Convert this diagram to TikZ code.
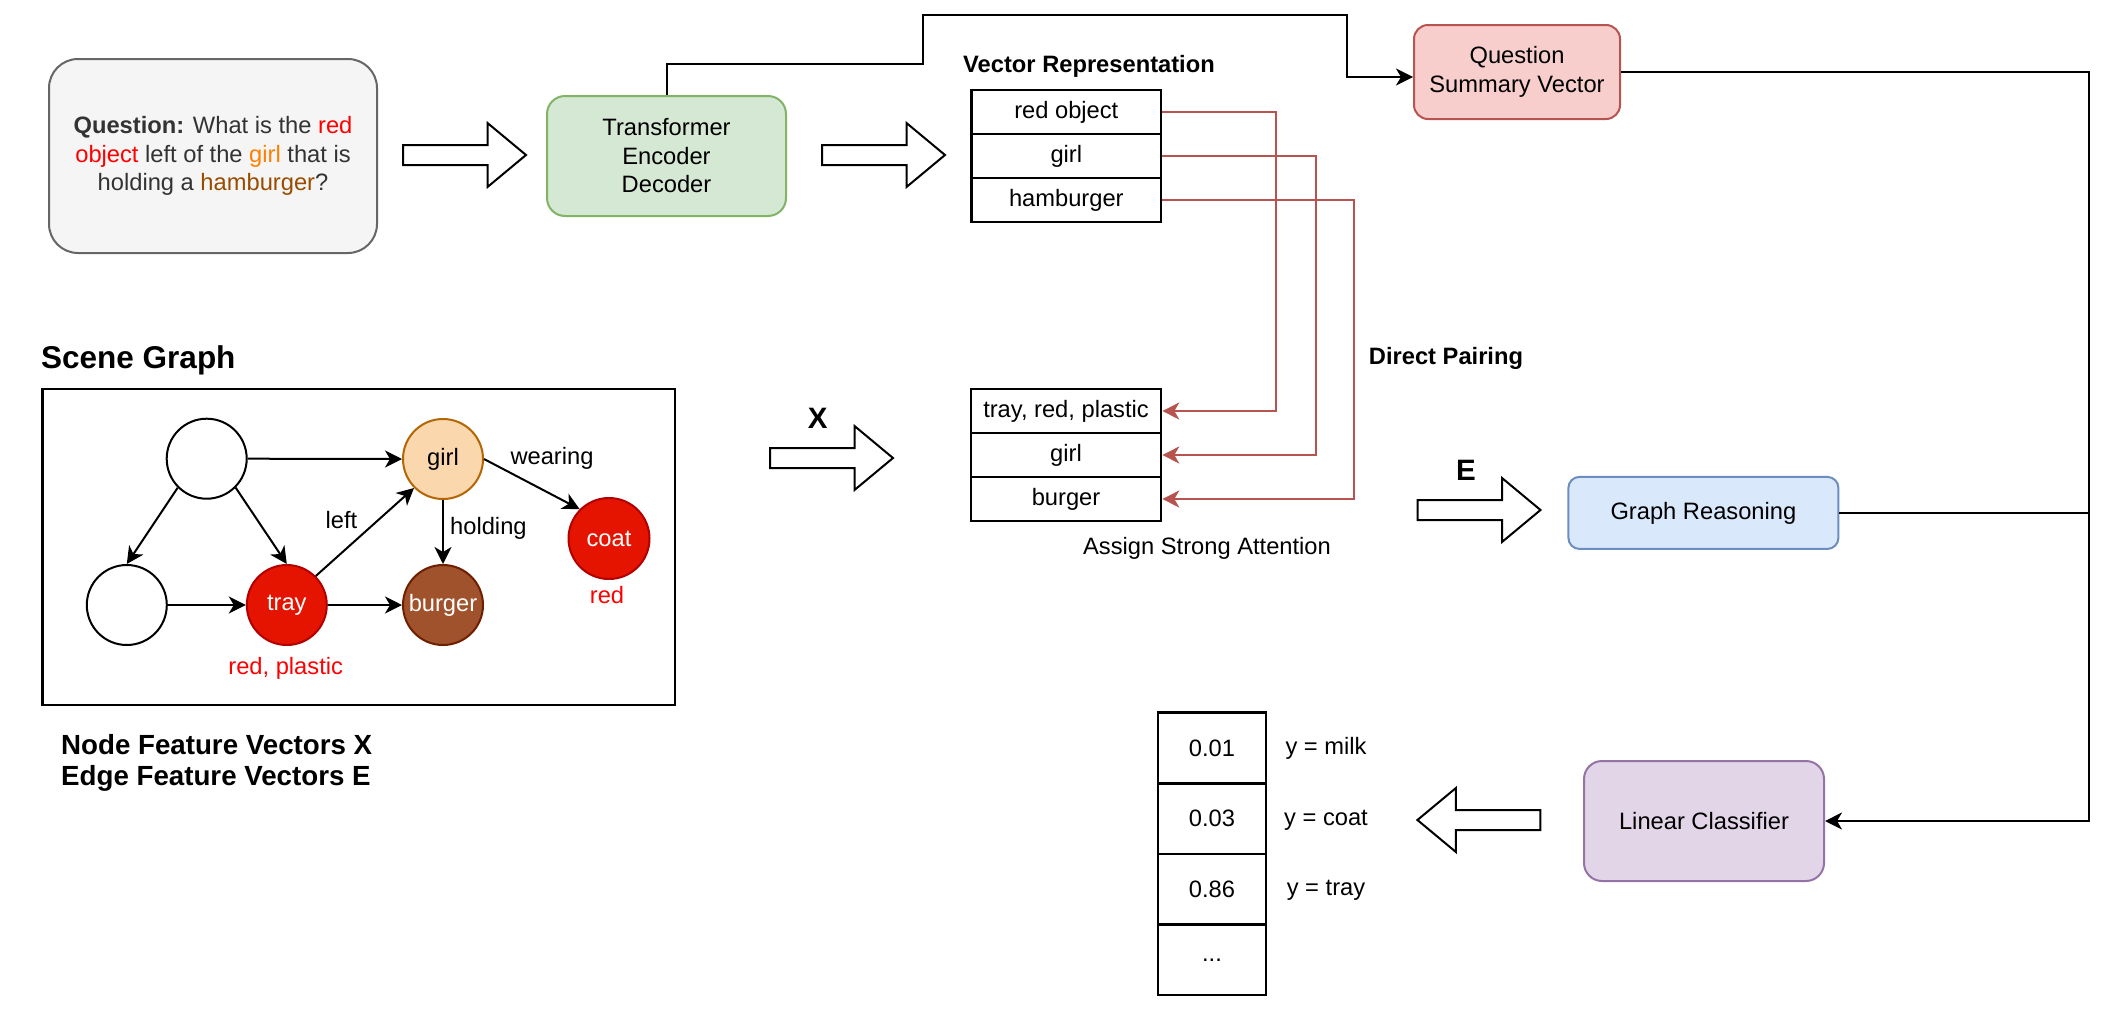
\documentclass[tikz,border=0pt]{standalone}
\usepackage{fontspec}
\setmainfont{Liberation Sans}
\usetikzlibrary{arrows.meta}
\definecolor{qfill}{HTML}{F5F5F5}
\definecolor{qline}{HTML}{666666}
\definecolor{qtext}{HTML}{333333}
\definecolor{gfill}{HTML}{D5E8D4}
\definecolor{gline}{HTML}{82B366}
\definecolor{rfill}{HTML}{F8CECC}
\definecolor{rline}{HTML}{B85450}
\definecolor{bfill}{HTML}{DAE8FC}
\definecolor{bline}{HTML}{6C8EBF}
\definecolor{pfill}{HTML}{E1D5E7}
\definecolor{pline}{HTML}{9673A6}
\definecolor{girlfill}{HTML}{FAD7AC}
\definecolor{girlline}{HTML}{B46504}
\definecolor{trayfill}{HTML}{E51400}
\definecolor{trayline}{HTML}{B20000}
\definecolor{burgfill}{HTML}{A0522D}
\definecolor{burgline}{HTML}{6D1F00}
\definecolor{txtred}{HTML}{FF0000}
\definecolor{txtorange}{HTML}{FF8000}
\definecolor{txtbrown}{HTML}{994C00}
\begin{document}
\begin{tikzpicture}[x=1pt,y=-1pt,
  base/.style={font=\fontsize{23.7}{28.5}\selectfont, inner sep=0pt, align=center},
  boldlab/.style={font=\fontsize{23.7}{28.5}\selectfont\bfseries, inner sep=0pt},
  rbox/.style={base, draw, line width=2pt, rectangle},
  cell/.style={base, draw, line width=2.6pt, rectangle},
  gnode/.style={base, draw, circle, line width=2pt, minimum size=80pt},
  tip/.style={-{Stealth[length=17pt,width=17pt,inset=5pt]}},
  conn/.style={line width=2pt, tip},
  redconn/.style={line width=2pt, draw=rline, -{Stealth[length=17pt,width=17pt,inset=5pt,rline]}},
  hollow/.pic={\draw[line width=2pt, fill=white, line join=miter]
     (0,-10) -- (84.5,-10) -- (84.5,-32) -- (123,0) -- (84.5,32) -- (84.5,10) -- (0,10) -- cycle;}
]
\useasboundingbox[fill=white] (0,0) rectangle (2106,1028);

% question
\node[rbox, fill=qfill, draw=qline, text=qtext, minimum width=328pt, minimum height=194pt, rounded corners=29pt] (q) at (213,156)
 {{\bfseries Question:} What is the \textcolor{txtred}{red}\\ \textcolor{txtred}{object} left of the \textcolor{txtorange}{girl} that is\\ holding a \textcolor{txtbrown}{hamburger}?};
\pic at (403,155) {hollow};

% transformer
\node[rbox, fill=gfill, draw=gline, minimum width=239pt, minimum height=120pt, rounded corners=18pt] (te) at (666.5,156)
 {Transformer\\Encoder\\Decoder};
\pic at (822,155) {hollow};

% vector representation
\node[boldlab] (vrt) at (1089,66) {Vector Representation};
\node[cell, minimum width=189.4pt, minimum height=44pt] (vr1) at (1066.3,112) {red object};
\node[cell, minimum width=189.4pt, minimum height=44pt] (vr2) at (1066.3,156) {girl};
\node[cell, minimum width=189.4pt, minimum height=44pt] (vr3) at (1066.3,200) {hamburger};

% question summary vector
\node[rbox, fill=rfill, draw=rline, minimum width=206pt, minimum height=94pt, rounded corners=14pt] (qsv) at (1517,72)
 {Question\\Summary Vector};
\draw[conn] (te.north) |- (922.5,64.3) |- (1347,14.7) |- ([yshift=-5pt]qsv.west);

% scene graph
\node[boldlab, font=\fontsize{31.5}{36}\selectfont\bfseries, anchor=west] (sgt) at (41,360) {Scene Graph};
\node[draw, line width=2.6pt, minimum width=632.6pt, minimum height=316pt, inner sep=0pt] (sgbox) at (358.7,547) {};
\node[gnode] (tl) at (206.7,458.7) {};
\node[gnode] (lb) at (126.8,605) {};
\node[gnode, fill=trayfill, draw=trayline, text=white] (tray) at (286.8,605) {tray};
\node[gnode, fill=girlfill, draw=girlline] (girl) at (443,459) {girl};
\node[gnode, fill=burgfill, draw=burgline, text=white] (burger) at (443,605) {burger};
\node[gnode, fill=trayfill, draw=trayline, text=white, minimum size=81pt] (coat) at (609,538.5) {coat};
\draw[conn] (tl.east) -- (girl.west);
\draw[conn] (tl.225) -- (lb.north);
\draw[conn] (tl.-45) -- (tray.north);
\draw[conn] (lb.east) -- (tray.west);
\draw[conn] (tray.east) -- (burger.west);
\draw[conn] (tray.45) -- (girl.225);
\draw[conn] (girl.south) -- (burger.north);
\draw[conn] (girl.east) -- (coat.135);
\node[base] (lleft) at (341.5,520) {left};
\node[base, anchor=west] (lhold) at (450,528) {holding};
\node[base] (lwear) at (552,458) {wearing};
\node[base, text=txtred] (lrp) at (285.7,668) {red, plastic};
\node[base, text=txtred] (lred) at (607,595) {red};
\node[boldlab, font=\fontsize{27.7}{33}\selectfont\bfseries, anchor=west] (nfv) at (61,745) {Node Feature Vectors X};
\node[boldlab, font=\fontsize{27.7}{33}\selectfont\bfseries, anchor=west] (efv) at (61,778) {Edge Feature Vectors E};

% X arrow and node table
\node[boldlab, font=\fontsize{29.5}{34}\selectfont\bfseries] (xl) at (817.7,418) {X};
\pic at (770,458) {hollow};
\node[cell, minimum width=190pt, minimum height=44pt] (sg1) at (1066,411) {tray, red, plastic};
\node[cell, minimum width=190pt, minimum height=44pt] (sg2) at (1066,455) {girl};
\node[cell, minimum width=190pt, minimum height=44pt] (sg3) at (1066,499) {burger};
\node[base] (asa) at (1207,548) {Assign Strong Attention};
\node[boldlab] (dp) at (1446,358) {Direct Pairing};

\draw[redconn] (vr1.east) -- ++(114,0) |- (sg1.east);
\draw[redconn] (vr2.east) -- ++(154,0) |- (sg2.east);
\draw[redconn] (vr3.east) -- ++(192,0) |- (sg3.east);

% E arrow and graph reasoning
\node[boldlab, font=\fontsize{29.5}{34}\selectfont\bfseries] (el) at (1466,470) {E};
\pic at (1417.5,510) {hollow};
\node[rbox, fill=bfill, draw=bline, minimum width=270pt, minimum height=72pt, rounded corners=11pt] (gr) at (1703.4,512.9) {Graph Reasoning};

% linear classifier
\node[rbox, fill=pfill, draw=pline, minimum width=240pt, minimum height=120pt, rounded corners=18pt] (lc) at (1704,821) {Linear Classifier};
\coordinate (rt) at (2088.6,72);
\draw[conn] (qsv.east) -- (rt) |- (lc.east);
\draw[line width=2pt] (gr.east) -- (gr.east -| rt);
\pic[rotate=180] at (1540.4,820) {hollow};

% output table
\node[cell, minimum width=108pt, minimum height=70.6pt] (o1) at (1212,748) {0.01};
\node[cell, minimum width=108pt, minimum height=70.6pt] (o2) at (1212,818.6) {0.03};
\node[cell, minimum width=108pt, minimum height=70.6pt] (o3) at (1212,889.2) {0.86};
\node[cell, minimum width=108pt, minimum height=70.6pt] (o4) at (1212,959.8) {...};
\node[base] (ym) at (1326,748) {y = milk};
\node[base] (yc) at (1326,820) {y = coat};
\node[base] (yt) at (1326,890) {y = tray};
\end{tikzpicture}
\end{document}
